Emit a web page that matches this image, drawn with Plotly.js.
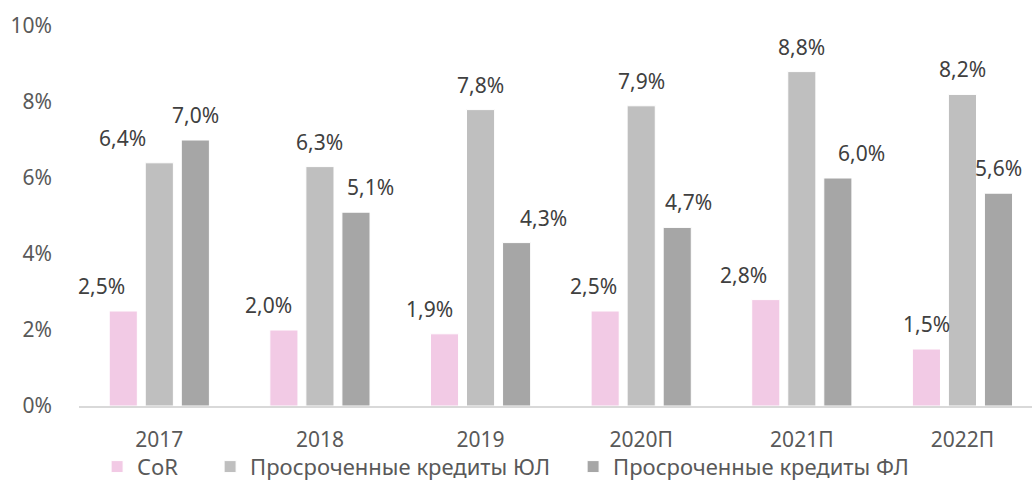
<!DOCTYPE html>
<html>
<head>
<meta charset="utf-8">
<script src="https://cdn.plot.ly/plotly-3.0.1.min.js"></script>
<style>html,body{margin:0;padding:0;background:#fff;}#chart{width:1032px;height:481px;}</style>
</head>
<body>
<div id="chart"></div>
<script>
// ---- data ----
var categories = ["2017", "2018", "2019", "2020П", "2021П", "2022П"];
var seriesNames = ["CoR", "Просроченные кредиты ЮЛ", "Просроченные кредиты ФЛ"];
var corValues = [2.5, 2.0, 1.9, 2.5, 2.8, 1.5];
var ulValues  = [6.4, 6.3, 7.8, 7.9, 8.8, 8.2];
var flValues  = [7.0, 5.1, 4.3, 4.7, 6.0, 5.6];
var yTickValues = [0, 2, 4, 6, 8, 10];

// ---- style ----
var colors = ["#F2CAE5", "#BFBFBF", "#A6A6A6"];
var legendWidths = [68, 318, 0];
var slotOffsets = [-36, 0, 36];            // px offset of each series' bar centre within a group
var labelNudge = [                          // manual label placement offsets (px), as in the source
  [-22, -15, -15, -12, -22, 0],
  [-37, 0, 0, 0, 0, 0],
  [0, 15, 27, 11, 24, 0]
];
var FONT = "Noto Sans, Open Sans, DejaVu Sans, sans-serif";
var FS = 21;

var allValues = [corValues, ulValues, flValues];
function fmt(v) { return v.toFixed(1).replace('.', ',') + '%'; }

var traces = allValues.map(function (vals, s) {
  return {
    type: 'bar',
    name: seriesNames[s],
    x: categories,
    y: vals,
    marker: { color: colors[s], line: { color: '#FFFFFF', width: 1 } },
    legendwidth: legendWidths[s] || undefined,
    hoverinfo: 'x+y'
  };
});

var annotations = [];
allValues.forEach(function (vals, s) {
  vals.forEach(function (v, i) {
    annotations.push({
      x: i, y: v, xref: 'x', yref: 'y',
      text: fmt(v), showarrow: false,
      xanchor: 'center', yanchor: 'bottom',
      xshift: slotOffsets[s] + labelNudge[s][i], yshift: 9,
      font: { family: FONT, size: FS, color: '#404040' }
    });
  });
});

var layout = {
  width: 1032, height: 481,
  margin: { l: 79, r: 0, t: 26, b: 75, pad: 0, autoexpand: false },
  paper_bgcolor: '#FFFFFF', plot_bgcolor: '#FFFFFF',
  barmode: 'group', bargap: 0.327, bargroupgap: 0.22,
  font: { family: FONT, size: FS, color: '#595959' },
  xaxis: {
    type: 'category',
    range: [-0.5, 5.433],
    showline: true, linecolor: '#D9D9D9', linewidth: 1.5,
    showgrid: false, zeroline: false, ticks: '',
    ticklabelstandoff: 14,
    tickfont: { family: FONT, size: FS, color: '#595959' },
    fixedrange: true, automargin: false
  },
  yaxis: {
    range: [0, 10],
    tickvals: yTickValues,
    ticktext: yTickValues.map(function (v) { return v + '%'; }),
    showline: false, showgrid: false, zeroline: false, ticks: '',
    ticklabelstandoff: 26,
    tickfont: { family: FONT, size: FS, color: '#595959' },
    fixedrange: true, automargin: false
  },
  showlegend: true,
  legend: {
    orientation: 'h', x: 0.019, xanchor: 'left', y: -0.16, yanchor: 'middle',
    font: { family: FONT, size: 22, color: '#595959' },
    itemwidth: 30, tracegroupgap: 0,
    bgcolor: 'rgba(0,0,0,0)'
  },
  annotations: annotations
};

Plotly.newPlot('chart', traces, layout, { displayModeBar: false, staticPlot: true });
</script>
</body>
</html>
